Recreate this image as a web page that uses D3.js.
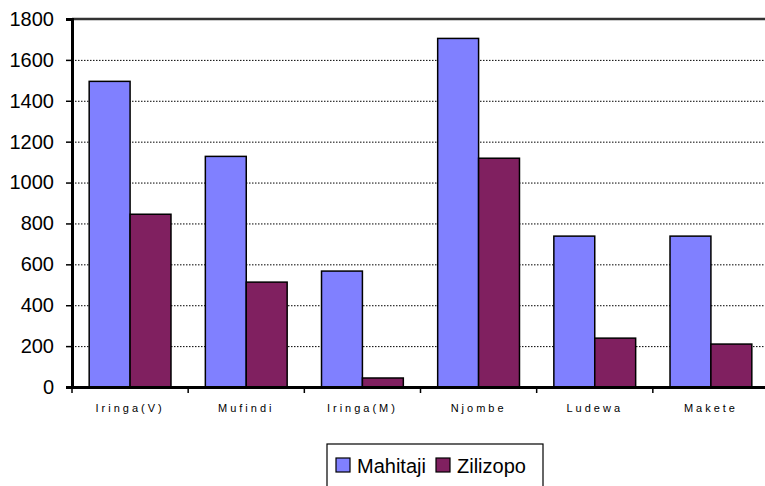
<!DOCTYPE html>
<html>
<head>
<meta charset="utf-8">
<script src="https://cdn.jsdelivr.net/npm/d3@7"></script>
<style>
  body { margin: 0; background: #fff; overflow: hidden; }
  text { font-family: "Liberation Sans", Arial, sans-serif; }
</style>
</head>
<body>
<script>
// data
var categories = ["Iringa(V)", "Mufindi", "Iringa(M)", "Njombe", "Ludewa", "Makete"];
var seriesNames = ["Mahitaji", "Zilizopo"];
var mahitaji = [1495, 1128, 567, 1705, 738, 738];
var zilizopo = [845, 513, 44, 1119, 239, 210];
var yTicks = [0, 200, 400, 600, 800, 1000, 1200, 1400, 1600, 1800];
var colors = ["#8080ff", "#802060"];

var W = 765, H = 486;
var margin = {top: 19, right: -4, bottom: 99, left: 72},
    width = W - margin.left - margin.right,
    height = H - margin.top - margin.bottom;

var svg = d3.select("body").append("svg")
    .attr("width", W)
    .attr("height", H)
    .style("display", "block");

var g = svg.append("g")
    .attr("transform", "translate(" + margin.left + "," + margin.top + ")");

var x0 = d3.scaleBand().domain(categories).range([0, width]).padding(0);
var x1 = d3.scaleBand().domain(seriesNames).range([0, x0.bandwidth()])
    .paddingInner(0).paddingOuter(0.42);
var y = d3.scaleLinear().domain([0, 1800]).range([height, 0]);

// dotted gridlines
g.selectAll(".grid")
    .data(yTicks.filter(function(d) { return d > 0 && d < 1800; }))
  .enter().append("line")
    .attr("x1", 0).attr("x2", width)
    .attr("y1", function(d) { return y(d) + 0.5; })
    .attr("y2", function(d) { return y(d) + 0.5; })
    .attr("stroke", "#000")
    .attr("stroke-width", 1)
    .attr("stroke-dasharray", "1.5,1.5");

// top border
g.append("line")
    .attr("x1", 0).attr("x2", width)
    .attr("y1", 0).attr("y2", 0)
    .attr("stroke", "#333").attr("stroke-width", 2.5);

var table = categories.map(function(c, i) {
  return {cat: c, values: [
    {key: "Mahitaji", value: mahitaji[i], color: colors[0]},
    {key: "Zilizopo", value: zilizopo[i], color: colors[1]}
  ]};
});

var groups = g.selectAll(".grp")
    .data(table)
  .enter().append("g")
    .attr("transform", function(d) { return "translate(" + x0(d.cat) + ",0)"; });

groups.selectAll("rect")
    .data(function(d) { return d.values; })
  .enter().append("rect")
    .attr("x", function(d) { return x1(d.key); })
    .attr("width", x1.bandwidth())
    .attr("y", function(d) { return y(d.value); })
    .attr("height", function(d) { return height - y(d.value); })
    .attr("fill", function(d) { return d.color; })
    .attr("stroke", "#000")
    .attr("stroke-width", 1.5);

// y axis
var yAxis = g.append("g")
    .call(d3.axisLeft(y).tickValues(yTicks).tickFormat(d3.format("d"))
      .tickSize(6).tickPadding(12));
yAxis.select(".domain").attr("stroke-width", 3);
yAxis.selectAll(".tick line").attr("stroke-width", 1.5);
yAxis.selectAll("text")
    .attr("font-size", 20)
    .attr("fill", "#000");

// x axis
var xAxis = g.append("g")
    .attr("transform", "translate(0," + height + ")")
    .call(d3.axisBottom(x0).tickSize(0).tickPadding(17));
xAxis.select(".domain").attr("stroke-width", 3);
xAxis.selectAll("text")
    .attr("font-size", 11)
    .attr("letter-spacing", "3px")
    .attr("fill", "#000");

// ticks between categories
g.selectAll(".xtick")
    .data(categories)
  .enter().append("line")
    .attr("x1", function(d) { return x0(d); })
    .attr("x2", function(d) { return x0(d); })
    .attr("y1", height)
    .attr("y2", height + 6)
    .attr("stroke", "#000")
    .attr("stroke-width", 1.5);

// legend (box runs past the bottom edge, as in the source)
var legend = svg.append("g").attr("transform", "translate(327,444)");
legend.append("rect")
    .attr("width", 216).attr("height", 60)
    .attr("fill", "#fff").attr("stroke", "#000").attr("stroke-width", 1.2);

var li = legend.selectAll(".li")
    .data(seriesNames)
  .enter().append("g")
    .attr("transform", function(d, i) { return "translate(" + (i === 0 ? 9 : 109) + ",0)"; });
li.append("rect")
    .attr("y", 14).attr("width", 14).attr("height", 14)
    .attr("fill", function(d, i) { return colors[i]; })
    .attr("stroke", "#000").attr("stroke-width", 1.2);
li.append("text")
    .attr("x", 21).attr("y", 29)
    .attr("font-size", 20)
    .text(function(d) { return d; });
</script>
</body>
</html>
